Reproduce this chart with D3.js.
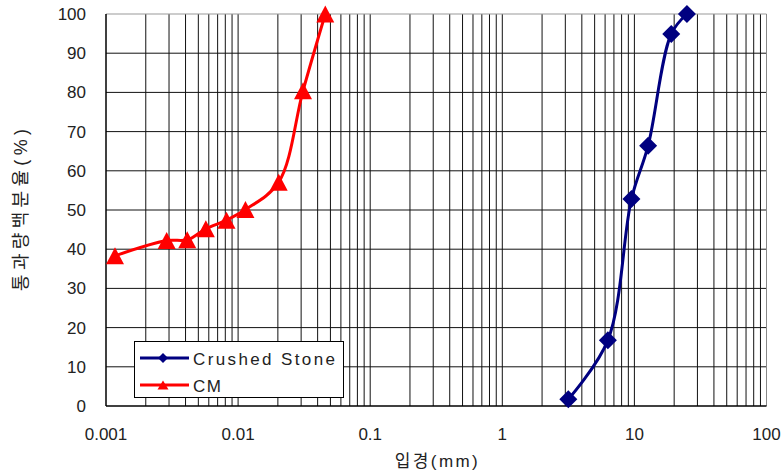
<!DOCTYPE html>
<html>
<head>
<meta charset="utf-8">
<script src="https://cdn.jsdelivr.net/npm/d3@7"></script>
<style>
  body { margin: 0; background: #fff; }
  text { font-family: "Liberation Sans", Arial, "Noto Sans CJK KR", sans-serif; fill: #222; }
</style>
</head>
<body>
<div class="content"></div>
<script>
// grain size (mm) vs percent passing
const cmSize = [0.00117, 0.00288, 0.00412, 0.0057, 0.00817, 0.01137, 0.0203, 0.031, 0.0457];
const cmPass = [38.3, 42.2, 42.4, 45.2, 47.4, 50.1, 57.1, 80.4, 100];
const stoneSize = [3.16, 6.3, 9.5, 12.7, 19, 25];
const stonePass = [1.7, 16.8, 52.8, 66.4, 94.9, 100];

const xTicks = [0.001, 0.01, 0.1, 1, 10, 100];
const xTickLabels = ["0.001", "0.01", "0.1", "1", "10", "100"];
const yTicks = [0, 10, 20, 30, 40, 50, 60, 70, 80, 90, 100];
const seriesNames = ["Crushed Stone", "CM"];

const W = 783, H = 475;
const plot = { left: 106, right: 766.5, top: 14, bottom: 406 };

const xScale = d3.scaleLog().domain([0.001, 100]).range([plot.left, plot.right]);
const yScale = d3.scaleLinear().domain([0, 100]).range([plot.bottom, plot.top]);

const svg = d3.select(".content").append("svg")
  .attr("width", W).attr("height", H);

//--> minor log grid (1..9 in each decade)
const gridX = [];
for (let e = -3; e < 2; e++) {
  for (let m = 1; m < 10; m++) gridX.push(m * Math.pow(10, e));
}
svg.append("g").selectAll("line").data(gridX.slice(1)).enter().append("line")
  .attr("x1", d => xScale(d)).attr("x2", d => xScale(d))
  .attr("y1", plot.top).attr("y2", plot.bottom)
  .attr("stroke", "#111").attr("stroke-width", 1);

svg.append("g").selectAll("line").data(yTicks.slice(1, -1)).enter().append("line")
  .attr("x1", plot.left).attr("x2", plot.right)
  .attr("y1", d => yScale(d)).attr("y2", d => yScale(d))
  .attr("stroke", "#111").attr("stroke-width", 1);

//--> frame
svg.append("line").attr("x1", plot.left).attr("x2", plot.right)
  .attr("y1", plot.top).attr("y2", plot.top).attr("stroke", "#999");
svg.append("line").attr("x1", plot.right).attr("x2", plot.right)
  .attr("y1", plot.top).attr("y2", plot.bottom).attr("stroke", "#888");
svg.append("line").attr("x1", plot.left).attr("x2", plot.left)
  .attr("y1", plot.top).attr("y2", plot.bottom).attr("stroke", "#000").attr("stroke-width", 1.5);
svg.append("line").attr("x1", plot.left).attr("x2", plot.right)
  .attr("y1", plot.bottom).attr("y2", plot.bottom).attr("stroke", "#000").attr("stroke-width", 1.5);

//--> tick labels
svg.append("g").selectAll("text").data(yTicks).enter().append("text")
  .attr("x", 86).attr("y", d => yScale(d) + 6)
  .attr("text-anchor", "end").style("font-size", "17px")
  .text(d => d);

svg.append("g").selectAll("text").data(xTicks).enter().append("text")
  .attr("x", d => xScale(d)).attr("y", 440)
  .attr("text-anchor", "middle").style("font-size", "17px")
  .text((d, i) => xTickLabels[i]);

//--> axis titles
svg.append("text")
  .attr("x", (plot.left + plot.right) / 2).attr("y", 467)
  .attr("text-anchor", "middle").style("font-size", "17px")
  .attr("textLength", 83).attr("lengthAdjust", "spacing")
  .text("입경(mm)");

svg.append("text")
  .attr("transform", `translate(27, ${(plot.top + plot.bottom) / 2}) rotate(-90)`)
  .attr("text-anchor", "middle").style("font-size", "18px")
  .attr("textLength", 162).attr("lengthAdjust", "spacing")
  .text("통과량백분율(%)");

//--> series
const line = d3.line()
  .x(d => xScale(d[0])).y(d => yScale(d[1]))
  .curve(d3.curveCatmullRom.alpha(0.5));

const stoneData = stoneSize.map((s, i) => [s, stonePass[i]]);
const cmData = cmSize.map((s, i) => [s, cmPass[i]]);

const diamond = r => `M0,${-r}L${r},0L0,${r}L${-r},0Z`;
const triangle = (w, h) => `M0,${-h / 2}L${w / 2},${h / 2}L${-w / 2},${h / 2}Z`;

svg.append("path").datum(cmData)
  .attr("d", line).attr("fill", "none")
  .attr("stroke", "#ff0000").attr("stroke-width", 3);
svg.append("g").selectAll("path").data(cmData).enter().append("path")
  .attr("d", triangle(18, 17))
  .attr("transform", d => `translate(${xScale(d[0])}, ${yScale(d[1])})`)
  .attr("fill", "#ff0000");

svg.append("path").datum(stoneData)
  .attr("d", line).attr("fill", "none")
  .attr("stroke", "#000080").attr("stroke-width", 3);
svg.append("g").selectAll("path").data(stoneData).enter().append("path")
  .attr("d", diamond(9))
  .attr("transform", d => `translate(${xScale(d[0])}, ${yScale(d[1])})`)
  .attr("fill", "#000080");

//--> legend
const legend = svg.append("g").attr("transform", "translate(134, 341)");
legend.append("rect")
  .attr("x", 0.5).attr("y", 0.5).attr("width", 209).attr("height", 56)
  .attr("fill", "#fff").attr("stroke", "#000");

const legendColors = ["#000080", "#ff0000"];
seriesNames.forEach((name, i) => {
  const y = 17 + i * 27;
  legend.append("line")
    .attr("x1", 6).attr("x2", 55).attr("y1", y).attr("y2", y)
    .attr("stroke", legendColors[i]).attr("stroke-width", 3);
  legend.append("path")
    .attr("d", i === 0 ? diamond(5) : triangle(11, 9))
    .attr("transform", `translate(29, ${y})`)
    .attr("fill", legendColors[i]);
  const t = legend.append("text")
    .attr("x", 59).attr("y", y + 7)
    .style("font-size", "17px")
    .text(name);
  if (i === 0) t.attr("textLength", 142).attr("lengthAdjust", "spacing");
  else t.attr("textLength", 28).attr("lengthAdjust", "spacing");
});
</script>
</body>
</html>
